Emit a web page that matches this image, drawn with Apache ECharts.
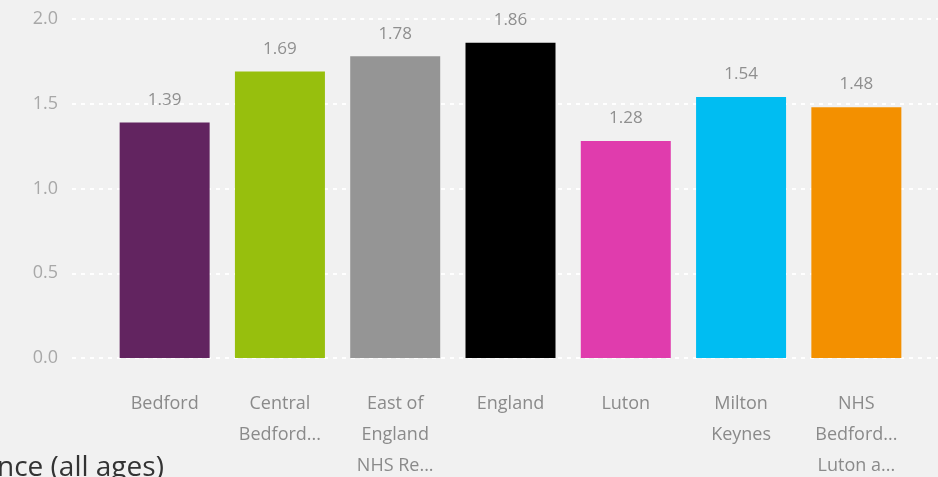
<!DOCTYPE html>
<html>
<head>
<meta charset="utf-8">
<script src="https://cdn.jsdelivr.net/npm/echarts@6/dist/echarts.min.js"></script>
<style>
    html, body { margin: 0; padding: 0; background: #f1f1f1; }
    #chart { width: 938px; height: 477px; }
</style>
</head>
<body>
<div id="chart"></div>
<script>
// data
const areas = ["Bedford", "Central Bedfordshire", "East of England NHS Region", "England", "Luton", "Milton Keynes", "NHS Bedfordshire, Luton and Milton Keynes"];
const tickLabels = ["Bedford", "Central\nBedford...", "East of\nEngland\nNHS Re...", "England", "Luton", "Milton\nKeynes", "NHS\nBedford...\nLuton a..."];
const values = [1.39, 1.69, 1.78, 1.86, 1.28, 1.54, 1.48];
const barColors = ["#622460", "#97bf0d", "#959595", "#000000", "#e03cad", "#00bdf2", "#f39000"];
const yTicks = [0, 0.5, 1.0, 1.5, 2.0];

let chart = null;

const getOption = () => {
    const font = "'Open Sans', 'Noto Sans', sans-serif";
    return {
        backgroundColor: "#f1f1f1",
        animation: false,
        grid: [
            // gridlines span the whole visual
            { left: 72, right: 0, top: 19, bottom: 119, outerBoundsMode: "none" },
            // bars sit in a narrower band
            { left: 107, right: 24, top: 19, bottom: 119, outerBoundsMode: "none" }
        ],
        xAxis: [
            { gridIndex: 0, type: "category", data: [""], show: false },
            {
                gridIndex: 1,
                type: "category",
                data: areas,
                axisLine: { show: false },
                axisTick: { show: false },
                axisLabel: {
                    color: "#8a8a8a",
                    fontFamily: font,
                    fontSize: 18,
                    lineHeight: 31,
                    margin: 30,
                    interval: 0,
                    hideOverlap: false,
                    formatter: (v, i) => tickLabels[i]
                }
            }
        ],
        yAxis: [
            {
                gridIndex: 0,
                type: "value",
                min: yTicks[0],
                max: yTicks[yTicks.length - 1],
                interval: 0.5,
                axisLine: { show: false },
                axisTick: { show: false },
                axisLabel: {
                    color: "#a8a8a8",
                    fontFamily: font,
                    fontSize: 18,
                    margin: 14,
                    formatter: v => v.toFixed(1)
                },
                splitLine: {
                    show: true,
                    lineStyle: { color: "#ffffff", width: 2, type: [4, 5] }
                }
            },
            {
                gridIndex: 1,
                type: "value",
                min: yTicks[0],
                max: yTicks[yTicks.length - 1],
                interval: 0.5,
                show: false
            }
        ],
        series: [
            {
                type: "bar",
                xAxisIndex: 1,
                yAxisIndex: 1,
                barWidth: 90,
                data: values.map((v, i) => ({ value: v, itemStyle: { color: barColors[i] } })),
                label: {
                    show: true,
                    position: "top",
                    distance: 14,
                    color: "#8f8f8f",
                    fontFamily: font,
                    fontSize: 17,
                    formatter: p => p.value.toFixed(2)
                }
            }
        ],
        graphic: [
            {
                type: "text",
                left: -3,
                top: 454,
                style: {
                    text: "nce (all ages)",
                    fill: "#333333",
                    font: "28px 'Open Sans', 'Noto Sans', sans-serif"
                }
            }
        ]
    };
};

chart = echarts.init(document.getElementById("chart"));
chart.setOption(getOption(), true);
</script>
</body>
</html>
